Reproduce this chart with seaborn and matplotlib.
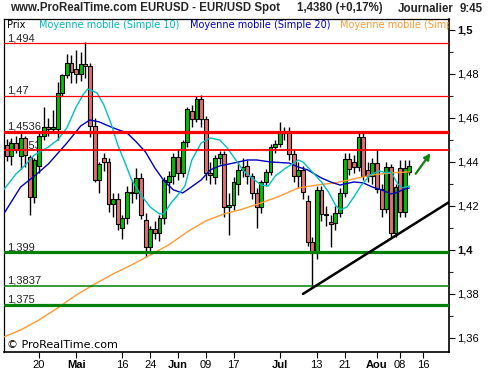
import numpy as np
import pandas as pd
import matplotlib
matplotlib.use("Agg")
import matplotlib.pyplot as plt
import seaborn as sns

# bougies journalieres EUR/USD (index de seance, 0 = 11 avril)
opens = [1.4477, 1.4427, 1.4486, 1.4427, 1.4509, 1.4423, 1.4241, 1.4380, 1.4518, 1.4559,
         1.4550, 1.4550, 1.4714, 1.4795, 1.4850, 1.4823, 1.4800, 1.4845, 1.4836, 1.4564,
         1.4318, 1.4420, 1.4400, 1.4209, 1.4232, 1.4100, 1.4145, 1.4264, 1.4259, 1.4327,
         1.4136, 1.4014, 1.4095, 1.4077, 1.4145, 1.4309, 1.4336, 1.4423, 1.4350, 1.4491,
         1.4632, 1.4595, 1.4686, 1.4595, 1.4350, 1.4332, 1.4418, 1.4436, 1.4195, 1.4205,
         1.4300, 1.4364, 1.4382, 1.4336, 1.4259, 1.4195, 1.4309, 1.4355, 1.4468, 1.4482,
         1.4532, 1.4541, 1.4436, 1.4336, 1.4364, 1.4223, 1.4036, 1.3991, 1.4273, 1.4164,
         1.4125, 1.4123, 1.4168, 1.4259, 1.4414, 1.4400, 1.4377, 1.4514, 1.4364, 1.4336,
         1.4395, 1.4277, 1.4186, 1.4377, 1.4077, 1.4373, 1.4173, 1.4355]
highs = [1.4505, 1.4510, 1.4520, 1.4530, 1.4520, 1.4430, 1.4418, 1.4530, 1.4650, 1.4600,
         1.4636, 1.4764, 1.4800, 1.4891, 1.4886, 1.4909, 1.4900, 1.4945, 1.4850, 1.4600,
         1.4400, 1.4440, 1.4420, 1.4260, 1.4260, 1.4160, 1.4290, 1.4318, 1.4373, 1.4350,
         1.4170, 1.4110, 1.4130, 1.4160, 1.4330, 1.4360, 1.4440, 1.4460, 1.4500, 1.4650,
         1.4660, 1.4700, 1.4705, 1.4610, 1.4400, 1.4430, 1.4450, 1.4450, 1.4260, 1.4330,
         1.4400, 1.4420, 1.4410, 1.4350, 1.4280, 1.4320, 1.4370, 1.4480, 1.4500, 1.4582,
         1.4560, 1.4560, 1.4460, 1.4400, 1.4380, 1.4250, 1.4060, 1.4290, 1.4290, 1.4200,
         1.4160, 1.4200, 1.4280, 1.4440, 1.4440, 1.4430, 1.4530, 1.4536, 1.4400, 1.4420,
         1.4455, 1.4300, 1.4400, 1.4390, 1.4300, 1.4409, 1.4409, 1.4409]
lows = [1.4405, 1.4386, 1.4440, 1.4370, 1.4377, 1.4159, 1.4214, 1.4350, 1.4500, 1.4520,
        1.4530, 1.4500, 1.4700, 1.4780, 1.4759, 1.4759, 1.4770, 1.4780, 1.4514, 1.4309,
        1.4259, 1.4360, 1.4173, 1.4150, 1.4091, 1.4050, 1.4120, 1.4214, 1.4230, 1.4140,
        1.3968, 1.3990, 1.4050, 1.4040, 1.4120, 1.4260, 1.4300, 1.4320, 1.4330, 1.4470,
        1.4560, 1.4580, 1.4560, 1.4320, 1.4300, 1.4300, 1.4390, 1.4150, 1.4068, 1.4180,
        1.4250, 1.4330, 1.4300, 1.4230, 1.4100, 1.4170, 1.4290, 1.4340, 1.4440, 1.4470,
        1.4500, 1.4410, 1.4310, 1.4282, 1.4230, 1.4020, 1.3836, 1.3960, 1.4130, 1.4110,
        1.4014, 1.4090, 1.4150, 1.4240, 1.4340, 1.4350, 1.4360, 1.4320, 1.4310, 1.4300,
        1.4260, 1.4150, 1.4170, 1.4060, 1.4060, 1.4150, 1.4150, 1.4340]
closes = [1.4427, 1.4486, 1.4455, 1.4509, 1.4432, 1.4241, 1.4409, 1.4518, 1.4559, 1.4550,
          1.4559, 1.4714, 1.4795, 1.4850, 1.4809, 1.4800, 1.4845, 1.4836, 1.4564, 1.4318,
          1.4390, 1.4400, 1.4209, 1.4232, 1.4118, 1.4145, 1.4264, 1.4259, 1.4327, 1.4159,
          1.4014, 1.4095, 1.4077, 1.4145, 1.4318, 1.4336, 1.4423, 1.4350, 1.4491, 1.4641,
          1.4595, 1.4686, 1.4595, 1.4350, 1.4340, 1.4418, 1.4436, 1.4195, 1.4205, 1.4309,
          1.4364, 1.4377, 1.4336, 1.4259, 1.4195, 1.4309, 1.4355, 1.4468, 1.4482, 1.4532,
          1.4541, 1.4436, 1.4336, 1.4364, 1.4264, 1.4036, 1.3991, 1.4273, 1.4164, 1.4160,
          1.4120, 1.4168, 1.4259, 1.4414, 1.4368, 1.4377, 1.4514, 1.4336, 1.4336, 1.4395,
          1.4277, 1.4186, 1.4377, 1.4077, 1.4286, 1.4173, 1.4373, 1.4382]

# moyennes mobiles
sma10_idx = [-0.6, 2, 4, 6, 9, 11, 13, 15, 16.5, 17.5, 19.5, 21, 22.5, 24, 25.5, 27, 29, 31,
             33, 34, 35.5, 37, 38.5, 40, 42, 44, 46, 47.5, 49.5, 51, 53, 55, 56.5, 58, 60,
             63, 64, 66, 68, 69.5, 71, 72, 73.5, 75, 76.5, 78.5, 80.5, 82, 83, 84.5, 85.5, 87]
sma10 = [1.4275, 1.4345, 1.4386, 1.4432, 1.4468, 1.4500, 1.4555, 1.4650, 1.4705, 1.4732,
         1.4714, 1.4659, 1.4577, 1.4477, 1.4400, 1.4318, 1.4250, 1.4195, 1.4164, 1.4164,
         1.4214, 1.4250, 1.4291, 1.4409, 1.4486, 1.4509, 1.4500, 1.4468, 1.4409, 1.4364,
         1.4327, 1.4295, 1.4291, 1.4336, 1.4368, 1.4409, 1.4400, 1.4355, 1.4309, 1.4264,
         1.4205, 1.4182, 1.4195, 1.4241, 1.4291, 1.4341, 1.4359, 1.4350, 1.4355, 1.4300,
         1.4282, 1.4291]
sma20_idx = [-0.6, 3, 6, 9, 13, 16, 18, 20, 23, 26, 28, 30, 32, 34, 36, 38, 39, 42, 44, 46,
             49, 52, 54, 57, 61, 63, 65, 68, 70, 72, 75, 77, 79, 81, 83, 84, 86, 87]
sma20 = [1.4165, 1.4286, 1.4336, 1.4391, 1.4486, 1.4564, 1.4591, 1.4582, 1.4555, 1.4532,
         1.4491, 1.4445, 1.4373, 1.4314, 1.4273, 1.4259, 1.4273, 1.4318, 1.4364, 1.4382,
         1.4395, 1.4409, 1.4409, 1.4400, 1.4395, 1.4377, 1.4364, 1.4327, 1.4309, 1.4295,
         1.4309, 1.4305, 1.4286, 1.4273, 1.4255, 1.4259, 1.4277, 1.4282]
sma100_idx = [-0.6, 3, 7, 11, 15, 19, 23, 27, 31, 35, 39, 43, 47, 51, 55, 59, 63, 67, 71,
              75, 79, 83, 87]
sma100 = [1.3605, 1.3636, 1.3682, 1.3736, 1.3795, 1.3845, 1.3891, 1.3932, 1.3977, 1.4023,
          1.4082, 1.4132, 1.4164, 1.4186, 1.4214, 1.4245, 1.4282, 1.4295, 1.4305, 1.4323,
          1.4341, 1.4350, 1.4355]

red_levels = [1.494, 1.47, 1.4536, 1.4453]
red_labels = ["1,494", "1,47", "1,4536", "1,4453"]
red_widths = [0.9, 0.9, 2.3, 1.3]
green_levels = [1.399, 1.3837, 1.375]
green_labels = ["1,399", "1,3837", "1,375"]
green_widths = [2.3, 1.1, 2.3]

trend_idx = [64.0, 95.6]
trend_price = [1.3800, 1.4218]
arrow_idx = [88.0, 91.9]
arrow_price = [1.4336, 1.4450]

date_ticks = [7, 15, 25, 31, 37, 43, 49, 59, 67, 73, 80, 85, 90]
date_labels = ["20", "Mai", "16", "24", "Jun", "09", "17", "Jul", "13", "21", "Aou", "08", "16"]
month_labels = ["Mai", "Jun", "Jul", "Aou"]
price_ticks = [1.36, 1.38, 1.40, 1.42, 1.44, 1.46, 1.48, 1.50]
price_labels = ["1,36", "1,38", "1,4", "1,42", "1,44", "1,46", "1,48", "1,5"]

sns.set_style("white")
plt.rcParams["font.family"] = ["Liberation Sans", "DejaVu Sans"]

df = pd.DataFrame({"o": opens, "h": highs, "l": lows, "c": closes})
df["idx"] = np.arange(len(df))
df["up"] = df["c"] >= df["o"]

fig = plt.figure(figsize=(5.0, 3.7), dpi=100)
ax = fig.add_axes([0.008, 0.0486, 0.890, 0.9001])

# bougies
ax.vlines(df["idx"], df["l"], df["h"], color="black", lw=1.0, zorder=2)
body_lo = df[["o", "c"]].min(axis=1)
body_h = (df["c"] - df["o"]).abs().clip(lower=0.0004)
colors = np.where(df["up"], "#00c000", "#e07070")
ax.bar(df["idx"], body_h, bottom=body_lo, width=0.84, color=colors,
       edgecolor="black", linewidth=0.8, zorder=2.5)

# moyennes mobiles
sns.lineplot(x=sma100_idx, y=sma100, ax=ax, color="#ff9933", lw=1.0, zorder=3)
sns.lineplot(x=sma20_idx, y=sma20, ax=ax, color="#0000c0", lw=1.0, zorder=3)
sns.lineplot(x=sma10_idx, y=sma10, ax=ax, color="#00c0c0", lw=1.0, zorder=3)

# niveaux
for lvl, lab, w in zip(red_levels, red_labels, red_widths):
    ax.axhline(lvl, color="#ff0000", lw=w, zorder=4)
    ax.annotate(lab, (0.007, lvl), xycoords=("axes fraction", "data"),
                xytext=(0, 1.5), textcoords="offset points", fontsize=8, zorder=1)
for lvl, lab, w in zip(green_levels, green_labels, green_widths):
    ax.axhline(lvl, color="#008000", lw=w, zorder=4)
    ax.annotate(lab, (0.007, lvl), xycoords=("axes fraction", "data"),
                xytext=(0, 1.5), textcoords="offset points", fontsize=8, zorder=1)

# oblique et fleche
ax.plot(trend_idx, trend_price, color="black", lw=1.8, zorder=5)
ax.annotate("", xy=(arrow_idx[1], arrow_price[1]), xytext=(arrow_idx[0], arrow_price[0]),
            arrowprops=dict(arrowstyle="-|>", color="#108010", lw=1.6,
                            mutation_scale=9), zorder=5)

ax.set_xlim(-0.58, 95.55)
ax.set_ylim(1.3536, 1.5050)

ax.yaxis.tick_right()
ax.set_yticks(price_ticks)
ax.set_yticklabels(price_labels)
ax.set_yticks(np.arange(1.37, 1.50, 0.02), minor=True)
for t in ax.get_yticklabels():
    if t.get_text() in ("1,4", "1,5"):
        t.set_fontweight("bold")
ax.set_xticks(date_ticks)
ax.set_xticklabels(date_labels)
for t in ax.get_xticklabels():
    if t.get_text() in month_labels:
        t.set_fontweight("bold")
ax.tick_params(axis="both", which="major", direction="out", length=4, width=0.8,
               labelsize=8, colors="black", pad=2)
ax.tick_params(axis="y", which="minor", direction="out", length=3, width=0.8, right=True)
ax.tick_params(axis="y", which="both", left=False, right=True)
ax.tick_params(axis="x", which="both", bottom=True, top=False)
for s in ax.spines.values():
    s.set_color("black")
    s.set_linewidth(0.9)
ax.spines["right"].set_linewidth(1.2)
ax.spines["bottom"].set_linewidth(1.2)
ax.set_xlabel("")
ax.set_ylabel("")

# legende en haut du cadre
leg_y = 0.981
ax.text(0.007, leg_y, "Prix", transform=ax.transAxes, fontsize=7, va="center",
        family="DejaVu Sans", color="black")
ax.text(0.079, leg_y, "Moyenne mobile (Simple 10)", transform=ax.transAxes, fontsize=7,
        va="center", family="DejaVu Sans", color="#00b8b8")
ax.text(0.418, leg_y, "Moyenne mobile (Simple 20)", transform=ax.transAxes, fontsize=7,
        va="center", family="DejaVu Sans", color="#0000c0")
ax.text(0.755, leg_y, "Moyenne mobile (Simple 100)", transform=ax.transAxes, fontsize=7,
        va="center", family="DejaVu Sans", color="#ff9933", clip_on=True)
ax.text(0.007, 0.022, "\u00a9 ProRealTime.com", transform=ax.transAxes, fontsize=8,
        va="center", family="DejaVu Sans", color="black")

# titre
hy = 1 - 8.5 / 370
fig.text(0.020, hy, "www.ProRealTime.com EURUSD - EUR/USD Spot", fontsize=8.3,
         fontweight="bold", va="center")
fig.text(0.594, hy, "1,4380 (+0,17%)", fontsize=8.3, fontweight="bold", va="center")
fig.text(0.796, hy, "Journalier", fontsize=8.3, fontweight="bold", va="center")
fig.text(0.920, hy, "9:45", fontsize=8.3, fontweight="bold", va="center")

fig.savefig("out.png", dpi=100, facecolor="white")
